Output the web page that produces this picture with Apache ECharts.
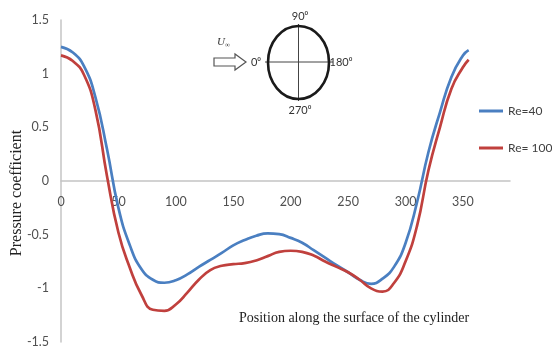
<!DOCTYPE html>
<html>
<head>
<meta charset="utf-8">
<script src="https://cdn.jsdelivr.net/npm/echarts@6/dist/echarts.min.js"></script>
<style>
  html, body { margin: 0; padding: 0; background: #fff; }
  #chart { width: 552px; height: 354px; }
</style>
</head>
<body>
<div id="chart"></div>
<script>
// Angular position on the cylinder surface (degrees)
const positions = [0, 10, 20, 30, 40, 50, 60, 70, 80, 90, 100, 110, 120, 130, 140, 150, 160, 170, 180,
  190, 200, 210, 220, 230, 240, 250, 260, 270, 280, 290, 300, 310, 320, 330, 340, 350, 355];

// Pressure coefficient, Re = 40
const cpRe40 = [1.25, 1.20, 1.07, 0.78, 0.30, -0.25, -0.60, -0.82, -0.92, -0.948, -0.925, -0.87, -0.80,
  -0.735, -0.67, -0.60, -0.55, -0.51, -0.488, -0.495, -0.53, -0.575, -0.645, -0.715, -0.785, -0.85,
  -0.92, -0.958, -0.91, -0.80, -0.58, -0.20, 0.27, 0.64, 0.97, 1.17, 1.22];

// Pressure coefficient, Re = 100
const cpRe100 = [1.17, 1.12, 0.99, 0.66, 0.05, -0.48, -0.81, -1.06, -1.20, -1.21, -1.15, -1.04, -0.92,
  -0.83, -0.79, -0.775, -0.765, -0.74, -0.70, -0.66, -0.65, -0.66, -0.695, -0.75, -0.80, -0.85,
  -0.92, -1.00, -1.03, -0.95, -0.75, -0.42, 0.10, 0.50, 0.86, 1.06, 1.13];

const seriesNames = ['Re=40', 'Re= 100'];
const seriesColors = ['#4a7fc1', '#c0403d'];

const xTicks = { min: 0, max: 391, step: 50, lastLabel: 350 };
const yTicks = { min: -1.5, max: 1.5, step: 0.5 };

function pairs(xs, ys) { return xs.map((x, i) => [x, ys[i]]); }

const gridTop = 20, gridBottom = 12, chartH = 354;
const plotH = chartH - gridTop - gridBottom;
// lift the horizontal axis from the bottom edge up to the Cp = 0 line
const zeroLift = plotH * (0 - yTicks.min) / (yTicks.max - yTicks.min);

const chart = echarts.init(document.getElementById('chart'), null, { renderer: 'canvas' });

const labelFont = "Lato, 'Open Sans', sans-serif";
const serif = "'Liberation Serif', 'DejaVu Serif', serif";

chart.setOption({
  animation: false,
  backgroundColor: '#ffffff',
  grid: { left: 61, right: 42, top: gridTop, bottom: gridBottom, containLabel: false, outerBoundsMode: 'none' },
  title: {
    text: 'Position along the surface of the cylinder',
    left: 234, top: 306,
    textStyle: { fontFamily: serif, fontSize: 14, fontWeight: 'normal', color: '#222' }
  },
  legend: {
    orient: 'vertical',
    left: 479, top: 105, padding: 0,
    itemGap: 25,
    itemWidth: 24, itemHeight: 3,
    icon: 'rect',
    textStyle: { fontFamily: labelFont, fontSize: 12, color: '#404040' },
    data: seriesNames
  },
  xAxis: {
    type: 'value', position: 'bottom', offset: -zeroLift,
    min: xTicks.min, max: xTicks.max, interval: xTicks.step,
    axisLine: { onZero: false, lineStyle: { color: '#c4c4c4', width: 1.5 } },
    axisTick: { show: false },
    splitLine: { show: false },
    axisLabel: {
      margin: 14, fontFamily: labelFont, fontSize: 12.5, color: '#505050',
      showMaxLabel: false,
      formatter: v => (v <= xTicks.lastLabel ? String(v) : '')
    }
  },
  yAxis: {
    type: 'value',
    min: yTicks.min, max: yTicks.max, interval: yTicks.step,
    axisLine: { show: true, onZero: false, lineStyle: { color: '#c4c4c4', width: 1.5 } },
    axisTick: { show: false },
    splitLine: { show: false },
    axisLabel: { margin: 12, fontFamily: labelFont, fontSize: 12.5, color: '#505050' }
  },
  series: [
    {
      name: seriesNames[0], type: 'line', smooth: 0.5, symbol: 'none',
      data: pairs(positions, cpRe40),
      lineStyle: { color: seriesColors[0], width: 2.7 },
      itemStyle: { color: seriesColors[0] }
    },
    {
      name: seriesNames[1], type: 'line', smooth: 0.5, symbol: 'none',
      data: pairs(positions, cpRe100),
      lineStyle: { color: seriesColors[1], width: 2.7 },
      itemStyle: { color: seriesColors[1] }
    }
  ],
  graphic: [
    // y-axis title
    {
      type: 'text', x: 17, y: 193, rotation: Math.PI / 2,
      style: { text: 'Pressure coefficient', font: '16px ' + serif, fill: '#222',
        textAlign: 'center', textVerticalAlign: 'middle' }
    },
    // cylinder sketch: free stream arrow
    {
      type: 'polygon',
      shape: { points: [[214, 58], [235, 58], [235, 54], [246, 62], [235, 70], [235, 66], [214, 66]] },
      style: { fill: '#fff', stroke: '#555', lineWidth: 1.2 }
    },
    {
      type: 'text', x: 217, y: 42,
      style: { text: '{u|U}{s|∞}', textVerticalAlign: 'middle',
        rich: { u: { fontFamily: serif, fontStyle: 'italic', fontSize: 11, fill: '#333' },
                s: { fontFamily: serif, fontSize: 7, fill: '#333', verticalAlign: 'bottom', padding: [6, 0, 0, 0] } } }
    },
    // cross hairs
    { type: 'line', shape: { x1: 265, y1: 62, x2: 333, y2: 62 }, style: { stroke: '#444', lineWidth: 1 } },
    { type: 'line', shape: { x1: 298.5, y1: 24, x2: 298.5, y2: 101 }, style: { stroke: '#444', lineWidth: 1 } },
    // cylinder outline
    {
      type: 'ellipse', shape: { cx: 298.5, cy: 62.5, rx: 30.5, ry: 36.5 },
      style: { fill: 'none', stroke: '#1a1a1a', lineWidth: 2.6 }
    },
    { type: 'text', x: 256, y: 62, style: { text: '0⁰', font: '11px ' + labelFont, fill: '#333', textAlign: 'center', textVerticalAlign: 'middle' } },
    { type: 'text', x: 300, y: 16, style: { text: '90⁰', font: '11px ' + labelFont, fill: '#333', textAlign: 'center', textVerticalAlign: 'middle' } },
    { type: 'text', x: 341, y: 62, style: { text: '180⁰', font: '11px ' + labelFont, fill: '#333', textAlign: 'center', textVerticalAlign: 'middle' } },
    { type: 'text', x: 300, y: 110, style: { text: '270⁰', font: '11px ' + labelFont, fill: '#333', textAlign: 'center', textVerticalAlign: 'middle' } }
  ]
});
</script>
</body>
</html>
